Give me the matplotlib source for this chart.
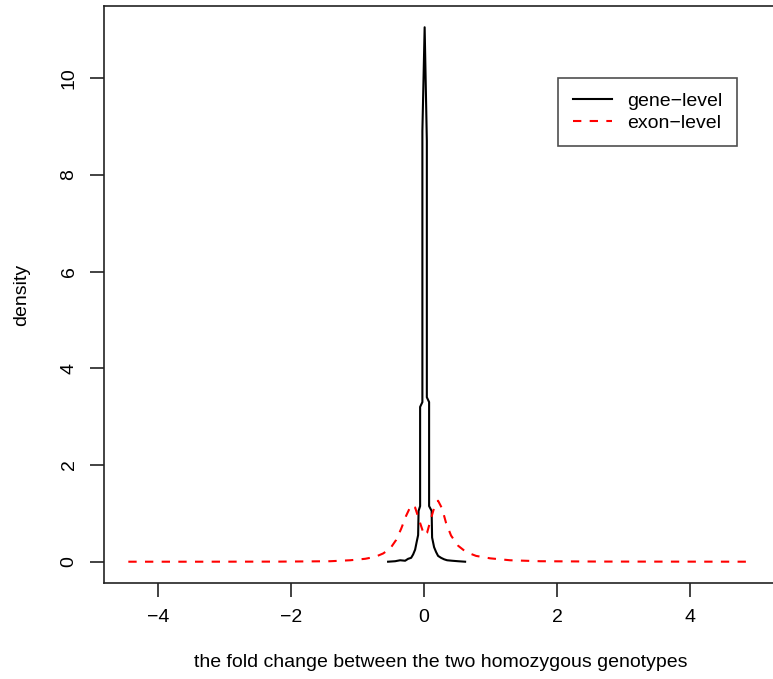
import matplotlib
matplotlib.use("Agg")
import matplotlib.pyplot as plt

plt.rcParams['font.family'] = ['Liberation Sans', 'DejaVu Sans']

# curva densidad a nivel de gen (pico muy estrecho)
gen_x = [-0.541, -0.435, -0.360, -0.285, -0.240, -0.195, -0.165, -0.135, -0.113,
         -0.090, -0.083, -0.060, -0.060, -0.026, -0.026, 0.008, 0.041, 0.041,
         0.075, 0.075, 0.113, 0.120, 0.150, 0.180, 0.210, 0.255, 0.300, 0.345,
         0.420, 0.511, 0.616]
gen_y = [0.0, 0.01, 0.03, 0.02, 0.06, 0.08, 0.15, 0.25, 0.40,
         0.55, 1.05, 1.15, 3.20, 3.30, 8.90, 11.05, 8.70, 3.40,
         3.30, 1.15, 1.05, 0.50, 0.30, 0.20, 0.12, 0.08, 0.05, 0.03,
         0.02, 0.01, 0.0]

# curva densidad a nivel de exon (bimodal, mas ancha)
exon_x = [-4.444, -3.363, -2.162, -1.411, -1.111, -0.886, -0.736, -0.616, -0.511,
          -0.420, -0.345, -0.270, -0.195, -0.135, -0.060, 0.0, 0.045, 0.105,
          0.165, 0.210, 0.270, 0.330, 0.405, 0.511, 0.631, 0.781, 0.991, 1.291,
          1.742, 2.643, 4.925]
exon_y = [0.0, 0.0, 0.002, 0.01, 0.03, 0.06, 0.10, 0.17, 0.27,
          0.45, 0.68, 0.95, 1.17, 1.12, 0.80, 0.55, 0.60, 0.90,
          1.18, 1.26, 1.10, 0.80, 0.54, 0.33, 0.20, 0.12, 0.07, 0.03,
          0.01, 0.003, 0.0]

x_ticks = [-4, -2, 0, 2, 4]
y_ticks = [0, 2, 4, 6, 8, 10]

fig = plt.figure(figsize=(7.73, 6.79), dpi=100)
ax = fig.add_axes([0.1345, 0.1414, 0.8705, 0.8498])

ax.plot(gen_x, gen_y, color='black', lw=1.5, label='gene\u2212level')
ax.plot(exon_x, exon_y, color='red', lw=1.5, ls=(0, (4, 4)), label='exon\u2212level')

ax.set_xlim(-4.81, 5.30)
ax.set_ylim(-0.44, 11.49)
ax.set_xticks(x_ticks)
ax.set_yticks(y_ticks)
ax.set_xticklabels([str(v).replace('-', '\u2212') for v in x_ticks])
ax.set_yticklabels([str(v) for v in y_ticks], rotation=90, va='center')

ax.tick_params(axis='both', length=10, width=1.2, labelsize=14, color='#222222')
ax.tick_params(axis='x', pad=9)
ax.tick_params(axis='y', pad=9)
for s in ax.spines.values():
    s.set_linewidth(1.2)
    s.set_color('#222222')

ax.set_xlabel('the fold change between the two homozygous genotypes', fontsize=14)
ax.set_ylabel('density', fontsize=14)
ax.xaxis.set_label_coords(0.5, -0.137)
ax.yaxis.set_label_coords(-0.122, 0.5)
ax.xaxis.label.set_va('center')
ax.yaxis.label.set_va('center')

leg = ax.legend(loc='upper left', bbox_to_anchor=(0.675, 0.875), fontsize=14,
                frameon=True, fancybox=False, handlelength=2.0, borderpad=0.75,
                labelspacing=0.2, handletextpad=0.8, borderaxespad=0)
leg.get_frame().set_edgecolor('#222222')
leg.get_frame().set_linewidth(1.2)

fig.savefig('out.png', dpi=100)
